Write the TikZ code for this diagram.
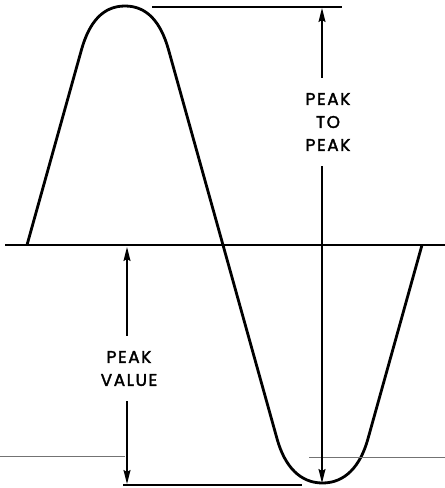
\documentclass[tikz,border=0pt]{standalone}
\usepackage{fontspec}
\setmainfont{Poppins}
\usetikzlibrary{arrows.meta}
\begin{document}
\begin{tikzpicture}[x=1pt,y=-1pt,
  wave/.style={line width=2.8pt, line join=round},
  axisline/.style={line width=1.7pt},
  dimline/.style={line width=1.5pt},
  thinline/.style={line width=0.8pt, black!55},
  dimarrow/.style={line width=1.5pt, -{Stealth[length=14pt,width=7pt,inset=2pt]}},
  lbl/.style={font=\fontsize{17}{23}\selectfont\addfontfeature{FakeBold=2,LetterSpace=9}, align=center, inner xsep=0pt, inner ysep=15pt}]
\useasboundingbox (0,0) rectangle (445,488);
% axis
\coordinate (axL) at (5,245);
\coordinate (axR) at (445,245);
\draw[axisline] (axL) -- (axR);
% wave
\draw[wave] (27,245) -- (81.4,50)
  .. controls (89.2,22) and (103,6) .. (125,6)
  .. controls (147,6) and (160.8,22) .. (168.6,50)
  -- (277.1,439)
  .. controls (284.9,467) and (300.5,483) .. (322.5,483)
  .. controls (344.5,483) and (360.1,467) .. (367.9,439)
  -- (422,245);
% reference lines
\coordinate (topL) at (152,7);
\coordinate (topR) at (342,7);
\draw[dimline] (topL) -- (topR);
\coordinate (botL) at (123,485);
\coordinate (botR) at (302,485);
\draw[dimline] (botL) -- (botR);
\coordinate (thinAL) at (0,456);
\coordinate (thinAR) at (125,456);
\draw[thinline] (thinAL) -- (thinAR);
\coordinate (thinBL) at (309,457);
\coordinate (thinBR) at (445,457);
\draw[thinline] (thinBL) -- (thinBR);
% peak to peak
\node[lbl] (ptp) at (328,122) {PEAK\\TO\\PEAK};
\coordinate (ptpT) at (322,8);
\coordinate (ptpB) at (322,483);
\draw[dimarrow] (ptp.north -| ptpT) -- (ptpT);
\draw[dimarrow] (ptp.south -| ptpB) -- (ptpB);
% peak value
\node[lbl] (pv) at (129,368.5) {PEAK\\VALUE};
\coordinate (pvT) at (127,247);
\coordinate (pvB) at (127,484);
\draw[dimarrow] (pv.north -| pvT) -- (pvT);
\draw[dimarrow] (pv.south -| pvB) -- (pvB);
\end{tikzpicture}
\end{document}
